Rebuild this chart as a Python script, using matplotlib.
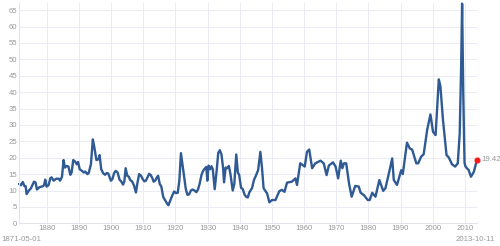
import matplotlib.pyplot as plt

# valores (ano decimal, P/E)
anos = [
    1871.33, 1871.9, 1872.5, 1873.0, 1873.4, 1873.7, 1874.4, 1875.0, 1876.0, 1876.5,
    1876.9, 1877.7, 1878.7, 1879.1, 1879.5, 1879.9, 1880.5, 1881.1, 1881.5, 1882.1,
    1882.9, 1883.7, 1884.1, 1884.7, 1885.2, 1885.6, 1886.2, 1886.7, 1887.3, 1887.7,
    1888.2, 1888.8, 1889.3, 1889.7, 1890.2, 1890.9, 1891.5, 1891.9, 1892.6, 1893.0,
    1893.7, 1894.3, 1894.8, 1895.4, 1896.0, 1896.4, 1896.9, 1897.5, 1898.1, 1898.6,
    1899.1, 1899.9, 1900.4, 1900.9, 1901.4, 1902.0, 1902.6, 1903.1, 1903.7, 1904.1,
    1904.5, 1905.0, 1905.5, 1905.9, 1906.5, 1907.1, 1907.7, 1908.2, 1908.7, 1909.3,
    1909.8, 1910.3, 1910.8, 1911.3, 1911.8, 1912.3, 1912.8, 1913.2, 1913.7, 1914.2,
    1914.6, 1915.1, 1915.6, 1916.2, 1916.8, 1917.4, 1917.8, 1918.4, 1919.0, 1919.6,
    1920.2, 1920.7, 1921.2, 1921.7, 1922.1, 1922.7, 1923.2, 1923.7, 1924.2, 1924.8,
    1925.3, 1925.9, 1926.5, 1927.0, 1927.5, 1928.1, 1928.6, 1929.2, 1929.6, 1929.9,
    1930.3, 1930.8, 1931.2, 1931.6, 1932.2, 1932.8, 1933.3, 1933.8, 1934.3, 1934.8,
    1935.1, 1935.6, 1936.1, 1936.6, 1937.1, 1937.8, 1938.3, 1938.9, 1939.4, 1939.8,
    1940.4, 1940.9, 1941.5, 1942.1, 1942.5, 1943.0, 1943.8, 1944.4, 1945.0, 1945.7,
    1946.4, 1946.9, 1947.4, 1948.0, 1948.5, 1949.2, 1950.0, 1951.1, 1952.3, 1953.1,
    1953.9, 1954.7, 1956.2, 1957.3, 1957.8, 1958.8, 1960.2, 1960.9, 1961.6, 1962.5,
    1963.5, 1965.1, 1966.1, 1967.0, 1967.7, 1969.0, 1969.8, 1970.6, 1971.4, 1971.9,
    1972.4, 1973.1, 1974.0, 1974.8, 1975.9, 1977.0, 1977.6, 1978.6, 1979.8, 1980.4,
    1981.2, 1982.2, 1983.4, 1984.6, 1985.3, 1986.6, 1987.4, 1987.9, 1988.9, 1990.2,
    1990.7, 1992.0, 1992.9, 1993.6, 1994.9, 1995.5, 1996.4, 1997.2, 1998.3, 1999.3,
    2000.1, 2000.9, 2001.9, 2002.4, 2003.2, 2004.3, 2005.0, 2006.0, 2007.0, 2007.8,
    2008.4, 2008.85, 2009.15, 2009.5, 2009.9, 2010.2, 2011.2, 2011.9, 2012.8, 2013.78,
]
pe = [
    12.0, 11.6, 12.6, 11.4, 11.3, 8.9, 10.0, 10.6, 12.7, 12.4,
    10.3, 11.0, 11.3, 11.6, 13.3, 11.2, 11.6, 13.8, 14.0, 13.0,
    13.6, 13.6, 13.0, 14.2, 19.3, 17.0, 17.5, 17.3, 14.8, 15.5,
    19.3, 18.8, 18.0, 18.7, 16.5, 16.0, 15.5, 15.8, 15.0, 15.3,
    18.0, 25.6, 23.0, 19.3, 19.5, 20.8, 16.5, 15.3, 14.8, 15.3,
    15.2, 13.0, 13.5, 15.3, 16.0, 15.5, 13.3, 12.8, 11.8, 12.8,
    16.8, 14.5, 14.2, 13.2, 12.8, 11.5, 9.4, 12.5, 15.0, 14.5,
    13.5, 12.8, 13.0, 14.0, 15.1, 14.7, 13.8, 12.7, 13.0, 14.0,
    14.5, 12.0, 11.2, 8.0, 7.0, 6.0, 5.5, 7.0, 8.5, 9.7,
    9.2, 9.3, 13.0, 21.4, 18.5, 14.0, 10.5, 8.7, 8.8, 10.0,
    10.3, 10.0, 9.5, 10.3, 12.0, 14.8, 16.0, 16.8, 17.2, 13.0,
    17.6, 16.5, 17.4, 16.5, 10.4, 16.0, 21.5, 22.3, 21.0, 17.0,
    12.5, 17.0, 16.8, 17.5, 15.0, 10.0, 12.0, 21.0, 15.5, 14.8,
    10.8, 10.5, 8.7, 8.0, 7.9, 9.5, 10.7, 13.2, 14.5, 16.2,
    21.8, 17.0, 10.7, 9.8, 9.1, 6.4, 7.1, 7.1, 9.8, 10.2,
    9.6, 12.4, 12.7, 13.7, 11.7, 18.3, 17.3, 21.8, 22.5, 16.8,
    18.3, 19.1, 18.3, 14.7, 17.6, 18.6, 17.3, 13.7, 19.1, 16.8,
    18.3, 18.3, 12.0, 8.1, 11.4, 11.2, 9.3, 8.6, 7.1, 7.1,
    9.3, 8.1, 13.2, 9.9, 10.7, 16.2, 19.8, 13.2, 11.7, 16.2,
    15.0, 24.6, 22.8, 22.5, 18.3, 18.3, 20.3, 21.1, 28.6, 33.2,
    27.9, 26.9, 43.9, 41.8, 31.5, 20.8, 20.1, 18.0, 17.3, 18.3,
    27.4, 48.0, 67.0, 40.0, 18.5, 17.3, 16.2, 14.2, 15.7, 19.42,
]

anos_ticks = list(range(1880, 2011, 10))
pe_ticks = list(range(0, 66, 5))
data_inicio = '1871-05-01'
data_fim = '2013-10-11'

plt.rcParams['font.family'] = ['Liberation Sans', 'DejaVu Sans']

fig = plt.figure(figsize=(5, 2.46), dpi=100)
ax = fig.add_axes([0.038, 0.0923, 0.916, 0.8955])

ax.plot(anos, pe, color='#2f5a93', linewidth=1.7, solid_joinstyle='round',
        solid_capstyle='round', clip_on=False)
ax.plot(anos[-1], pe[-1], 'o', color='#ff1a1a', markersize=3.4, clip_on=False, zorder=5)
ax.annotate(f'{pe[-1]:.2f}', (anos[-1], pe[-1]), xytext=(2.8, 0),
            textcoords='offset points', va='center', ha='left',
            fontsize=5.6, color='#999999', annotation_clip=False)

ax.set_xlim(anos[0], anos[-1])
ax.set_ylim(0, 67.2)
ax.set_xticks(anos_ticks)
ax.set_yticks(pe_ticks)
ax.tick_params(length=0, labelsize=5.6, labelcolor='#999999', pad=1.2)
ax.grid(True, color='#ebebf3', linewidth=0.7)
ax.set_axisbelow(True)
for lado in ['top', 'right']:
    ax.spines[lado].set_visible(False)
for lado in ['left', 'bottom']:
    ax.spines[lado].set_color('#e2e2ea')
    ax.spines[lado].set_linewidth(0.7)

fig.text(0.002, 0.026, data_inicio, fontsize=5.6, color='#999999', va='center', ha='left')
fig.text(0.99, 0.026, data_fim, fontsize=5.6, color='#999999', va='center', ha='right')

plt.savefig('out.png', dpi=100)
